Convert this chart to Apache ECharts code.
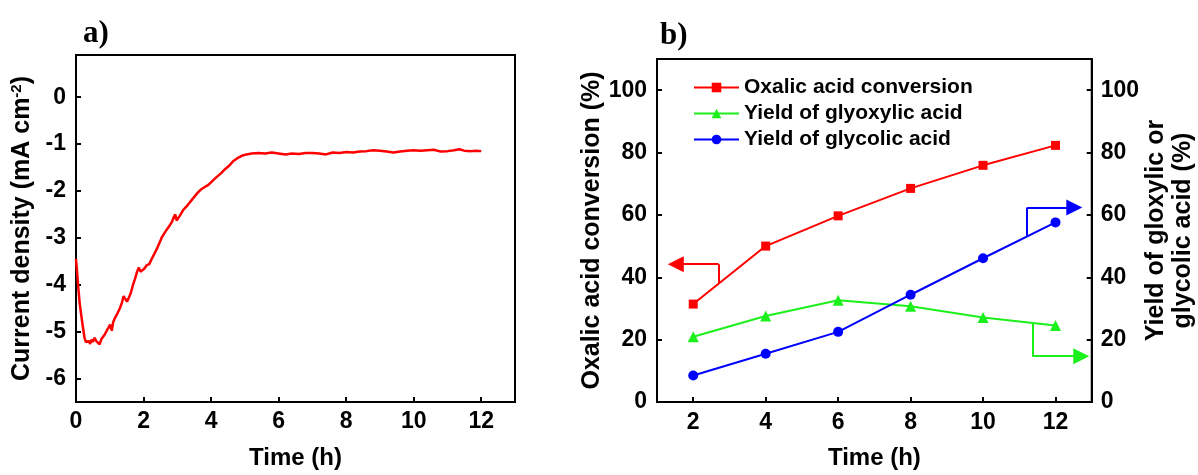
<!DOCTYPE html>
<html>
<head>
<meta charset="utf-8">
<script src="https://cdn.jsdelivr.net/npm/echarts@6/dist/echarts.min.js"></script>
<style>
html,body{margin:0;padding:0;background:#fff;}
#chart{width:1198px;height:475px;}
</style>
</head>
<body>
<div id="chart"></div>
<script>
// ---------- Panel a: chronoamperometry ----------
var timeA = [0.00,0.03,0.07,0.11,0.15,0.20,0.25,0.29,0.33,0.38,0.42,0.46,0.50,0.55,0.60,0.65,0.70,0.75,0.80,0.86,0.91,0.96,1.01,1.06,1.10,1.16,1.22,1.30,1.36,1.41,1.46,1.51,1.56,1.62,1.68,1.75,1.81,1.86,1.91,1.96,2.02,2.10,2.17,2.24,2.32,2.39,2.47,2.54,2.62,2.69,2.77,2.84,2.90,2.94,2.98,3.03,3.10,3.18,3.26,3.35,3.43,3.52,3.60,3.68,3.80,3.92,4.05,4.17,4.30,4.42,4.55,4.66,4.78,4.91,5.05,5.20,5.40,5.60,5.80,6.00,6.20,6.40,6.60,6.80,7.00,7.20,7.40,7.60,7.80,8.00,8.20,8.40,8.60,8.80,9.00,9.20,9.40,9.60,9.80,10.00,10.20,10.40,10.60,10.80,11.00,11.20,11.35,11.50,11.70,11.85,12.00];
var currentA = [-3.45,-3.70,-4.08,-4.40,-4.62,-4.88,-5.12,-5.22,-5.25,-5.20,-5.26,-5.17,-5.22,-5.13,-5.20,-5.24,-5.27,-5.16,-5.12,-5.05,-4.98,-4.92,-4.85,-4.98,-4.80,-4.70,-4.62,-4.50,-4.38,-4.24,-4.30,-4.36,-4.28,-4.18,-4.02,-3.87,-3.72,-3.63,-3.72,-3.76,-3.66,-3.58,-3.56,-3.45,-3.34,-3.24,-3.11,-2.99,-2.90,-2.82,-2.74,-2.66,-2.55,-2.50,-2.63,-2.60,-2.50,-2.40,-2.34,-2.26,-2.19,-2.11,-2.04,-1.98,-1.92,-1.87,-1.78,-1.70,-1.62,-1.53,-1.45,-1.36,-1.30,-1.25,-1.22,-1.20,-1.19,-1.20,-1.18,-1.20,-1.22,-1.20,-1.21,-1.19,-1.19,-1.20,-1.22,-1.18,-1.19,-1.17,-1.18,-1.16,-1.15,-1.13,-1.14,-1.16,-1.18,-1.16,-1.14,-1.13,-1.14,-1.13,-1.12,-1.16,-1.15,-1.13,-1.11,-1.14,-1.15,-1.14,-1.15];

// ---------- Panel b: conversion / yields ----------
var timeB = [2,4,6,8,10,12];
var oxalicConversion = [31.4,50.0,59.7,68.5,75.9,82.3];
var glyoxylicYield = [20.9,27.6,32.6,30.7,27.1,24.5];
var glycolicYield = [8.5,15.5,22.5,34.4,46.1,57.6];
var seriesNames = ['Oxalic acid conversion','Yield of glyoxylic acid','Yield of glycolic acid'];

// axis-pointing arrows (data coordinates): start on curve, corner, arrow tip
var arrowRed = [[2.70,38.0],[2.70,44.2],[1.52,44.2]];
var arrowBlue = [[11.22,53.2],[11.22,62.4],[12.52,62.4]];
var arrowGreen = [[11.36,25.0],[11.36,14.7],[12.71,14.7]];

var FONT = '"Liberation Sans", Arial, sans-serif';
var RED = '#ff0000', GREEN = '#1cf01c', BLUE = '#0000ff';

function pairs(xs, ys){ return xs.map(function(x,i){ return [x, ys[i]]; }); }

var axisCommon = {
  axisLine:{show:true, onZero:false, lineStyle:{color:'#000', width:2}},
  axisTick:{show:true, inside:true, length:5, lineStyle:{color:'#000', width:2}},
  splitLine:{show:false},
  axisLabel:{color:'#000', fontFamily:FONT, fontWeight:'bold', fontSize:23, showMaxLabel:false, showMinLabel:true},
  nameTextStyle:{color:'#000', fontFamily:FONT, fontWeight:'bold', fontSize:24}
};
function ax(o){ var r = JSON.parse(JSON.stringify(axisCommon)); for (var k in o){ if (typeof o[k]==='object' && r[k] && !Array.isArray(o[k])) { for (var j in o[k]) r[k][j]=o[k][j]; } else r[k]=o[k]; } return r; }

function arrowSeries(pts, color, yIdx){
  return [
    {type:'lines', coordinateSystem:'cartesian2d', xAxisIndex:1, yAxisIndex:yIdx, symbol:['none','none'], lineStyle:{color:color, width:2, opacity:1}, data:[{coords:[pts[0], pts[1]]}]},
    {type:'lines', coordinateSystem:'cartesian2d', xAxisIndex:1, yAxisIndex:yIdx, symbol:['none','triangle'], symbolSize:[10,16], lineStyle:{color:color, width:2, opacity:1}, itemStyle:{color:color}, data:[{coords:[pts[1], pts[2]]}]}
  ];
}

var chart = echarts.init(document.getElementById('chart'), null, {renderer:'canvas'});
chart.setOption({
  animation:false,
  backgroundColor:'#fff',
  title:[
    {text:'a)', left:78, top:13, textStyle:{fontFamily:'"Liberation Serif","Times New Roman",serif', fontWeight:'bold', fontSize:31, color:'#000'}},
    {text:'b)', left:655, top:15, textStyle:{fontFamily:'"Liberation Serif","Times New Roman",serif', fontWeight:'bold', fontSize:31, color:'#000'}}
  ],
  grid:[
    {left:76, top:55, width:439, height:355, show:true, borderColor:'#000', borderWidth:2, containLabel:false},
    {left:657, top:59, width:438, height:354, show:true, borderColor:'#000', borderWidth:2, containLabel:false}
  ],
  legend:{
    left:688, top:72, orient:'vertical', itemGap:5, itemWidth:45, itemHeight:12,
    data:seriesNames,
    textStyle:{color:'#000', fontFamily:FONT, fontWeight:'bold', fontSize:21, lineHeight:21}
  },
  xAxis:[
    ax({gridIndex:0, type:'value', min:0, max:13, splitNumber:6, name:'Time (h)', nameLocation:'middle', nameGap:44, axisLabel:{margin:8}}),
    ax({gridIndex:1, type:'value', min:1, max:13, splitNumber:6, name:'Time (h)', nameLocation:'middle', nameGap:44, axisLabel:{margin:9, showMinLabel:false}})
  ],
  yAxis:[
    ax({gridIndex:0, type:'value', min:-6.5, max:0.9, splitNumber:7, name:'{t|Current density (mA cm}{s|-2}{t|)}', nameLocation:'middle', nameGap:40, nameRotate:90,
        axisLabel:{margin:10, showMinLabel:false},
        nameTextStyle:{rich:{t:{fontFamily:FONT, fontWeight:'bold', fontSize:25, color:'#000'}, s:{fontFamily:FONT, fontWeight:'bold', fontSize:15, color:'#000', verticalAlign:'top', padding:[0,0,12,0]}}}}),
    ax({gridIndex:1, type:'value', min:0, max:110, interval:20, position:'left', name:'Oxalic acid conversion (%)', nameLocation:'middle', nameGap:51, nameRotate:90, axisLabel:{margin:10},
        nameTextStyle:{fontSize:25}}),
    ax({gridIndex:1, type:'value', min:0, max:110, interval:20, position:'right', name:'Yield of gloxylic or\nglycolic acid (%)', nameLocation:'middle', nameGap:48, nameRotate:90, axisLabel:{margin:9},
        nameTextStyle:{fontSize:25, lineHeight:27}})
  ],
  series:[
    {type:'line', xAxisIndex:0, yAxisIndex:0, data:pairs(timeA,currentA), showSymbol:false, symbol:'none', lineStyle:{color:RED, width:2.5}, itemStyle:{color:RED}},
    {name:seriesNames[0], type:'line', xAxisIndex:1, yAxisIndex:1, data:pairs(timeB,oxalicConversion), symbol:'rect', symbolSize:9, lineStyle:{color:RED, width:2}, itemStyle:{color:RED}},
    {name:seriesNames[1], type:'line', xAxisIndex:1, yAxisIndex:2, data:pairs(timeB,glyoxylicYield), symbol:'triangle', symbolSize:11, lineStyle:{color:GREEN, width:2}, itemStyle:{color:GREEN}},
    {name:seriesNames[2], type:'line', xAxisIndex:1, yAxisIndex:2, data:pairs(timeB,glycolicYield), symbol:'circle', symbolSize:10, lineStyle:{color:BLUE, width:2}, itemStyle:{color:BLUE}}
  ].concat(arrowSeries(arrowRed, RED, 1), arrowSeries(arrowBlue, BLUE, 2), arrowSeries(arrowGreen, GREEN, 2))
});
</script>
</body>
</html>
